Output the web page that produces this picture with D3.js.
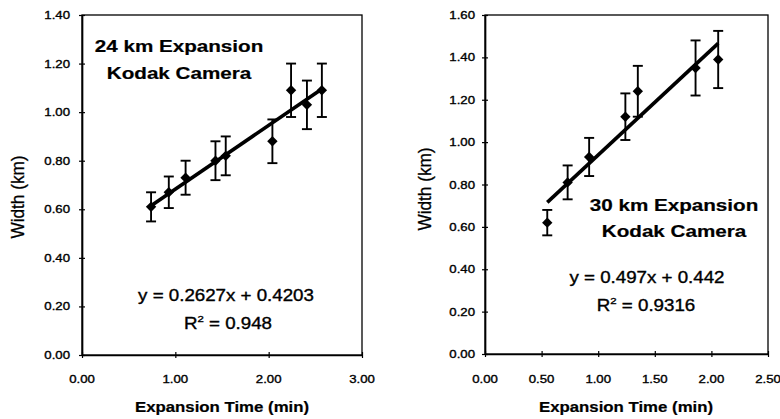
<!DOCTYPE html>
<html>
<head>
<meta charset="utf-8">
<script src="https://cdn.jsdelivr.net/npm/d3@7"></script>
<style>
  html, body { margin: 0; padding: 0; background: #fff; }
  svg { display: block; }
</style>
</head>
<body>
<svg id="chart" width="780" height="419"></svg>
<script>
// ---------- data ----------
// Panel A: 24 km Expansion, Kodak Camera
const timeA  = [0.74, 0.93, 1.11, 1.43, 1.54, 2.04, 2.24, 2.41, 2.57];
const widthA = [0.61, 0.67, 0.73, 0.80, 0.82, 0.88, 1.09, 1.03, 1.09];
const errA   = [0.06, 0.065, 0.07, 0.08, 0.08, 0.09, 0.11, 0.10, 0.11];
const xTicksA = [0, 1, 2, 3];
const yTicksA = [0, 0.2, 0.4, 0.6, 0.8, 1.0, 1.2, 1.4];
const titleA = ["24 km Expansion", "Kodak Camera"];
const trendA = [0.2627, 0.4203];           // slope, intercept
const eqA = ["y = 0.2627x + 0.4203", "0.948"];

// Panel B: 30 km Expansion, Kodak Camera
const timeB  = [0.55, 0.73, 0.92, 1.24, 1.35, 1.86, 2.06];
const widthB = [0.62, 0.81, 0.93, 1.12, 1.24, 1.35, 1.39];
const errB   = [0.06, 0.08, 0.09, 0.11, 0.12, 0.13, 0.135];
const xTicksB = [0, 0.5, 1.0, 1.5, 2.0, 2.5];
const yTicksB = [0, 0.2, 0.4, 0.6, 0.8, 1.0, 1.2, 1.4, 1.6];
const titleB = ["30 km Expansion", "Kodak Camera"];
const trendB = [0.497, 0.442];
const eqB = ["y = 0.497x + 0.442", "0.9316"];

const xTitle = "Expansion Time (min)";
const yTitle = "Width (km)";

// ---------- layout ----------
const FONT = "'Liberation Sans', Arial, Helvetica, sans-serif";
const NARROW = "'Liberation Sans Narrow', 'Arial Narrow', 'Liberation Sans', sans-serif";
const SX = 1.2;   // horizontal stretch of the scanned text

const panels = [
  { t: timeA, w: widthA, e: errA, xt: xTicksA, yt: yTicksA, title: titleA, trend: trendA, eq: eqA,
    x0: 82, x1: 362, y0: 355, y1: 15,
    titlePos: [179, 52, 79], eqPos: [226, 301, 228, 329],
    yLab: [24, 197], yTickX: 70, xTitleX: 222 },
  { t: timeB, w: widthB, e: errB, xt: xTicksB, yt: yTicksB, title: titleB, trend: trendB, eq: eqB,
    x0: 485, x1: 768, y0: 354, y1: 15,
    titlePos: [674, 211, 237], eqPos: [647, 283, 646, 311],
    yLab: [431, 189], yTickX: 475, xTitleX: 626 }
];

const svg = d3.select("#chart");
svg.append("rect").attr("width", 780).attr("height", 419).attr("fill", "#fff");

function txt(g, str, x, y, size, weight, anchor, family) {
  return g.append("text")
    .attr("transform", `translate(${x},${y}) scale(${SX},1)`)
    .attr("text-anchor", anchor || "middle")
    .attr("font-family", family || FONT)
    .attr("font-size", size)
    .attr("font-weight", weight || "normal")
    .attr("fill", "#000")
    .attr("stroke", "#000")
    .attr("stroke-width", weight === "bold" ? 0.2 : 0.35)
    .text(str);
}

panels.forEach(p => {
  const g = svg.append("g");
  const xMax = p.xt[p.xt.length - 1], yMax = p.yt[p.yt.length - 1];
  const x = d3.scaleLinear().domain([0, xMax]).range([p.x0, p.x1]);
  const y = d3.scaleLinear().domain([0, yMax]).range([p.y0, p.y1]);

  // frame
  g.append("rect")
    .attr("x", p.x0).attr("y", p.y1)
    .attr("width", p.x1 - p.x0).attr("height", p.y0 - p.y1)
    .attr("fill", "none").attr("stroke", "#000").attr("stroke-width", 1.3);

  // axes (cross ticks)
  const ax = g.append("g").attr("transform", `translate(0,${p.y0})`)
    .call(d3.axisBottom(x).tickValues(p.xt).tickFormat("").tickSize(3).tickSizeOuter(0));
  ax.selectAll(".tick line").attr("y1", -3).attr("stroke-width", 1.2);
  ax.select(".domain").attr("stroke-width", 1.7);
  const ay = g.append("g").attr("transform", `translate(${p.x0},0)`)
    .call(d3.axisLeft(y).tickValues(p.yt).tickFormat("").tickSize(3).tickSizeOuter(0));
  ay.selectAll(".tick line").attr("x1", 3).attr("stroke-width", 1.2);
  ay.select(".domain").attr("stroke-width", 1.7);

  // tick labels
  p.xt.forEach(v => txt(g, d3.format(".2f")(v), x(v), 383, 11, "normal", "middle"));
  p.yt.forEach(v => txt(g, d3.format(".2f")(v), p.yTickX, y(v) + 4, 11, "normal", "end"));

  // axis titles
  txt(g, xTitle, p.xTitleX, 412, 14, "bold", "middle");
  g.append("text")
    .attr("transform", `translate(${p.yLab[0]},${p.yLab[1]}) scale(${SX},1) rotate(-90)`)
    .attr("text-anchor", "middle")
    .attr("font-family", NARROW).attr("font-size", 16)
    .attr("textLength", 83).attr("lengthAdjust", "spacingAndGlyphs")
    .attr("fill", "#000").attr("stroke", "#000").attr("stroke-width", 0.25)
    .text(yTitle);

  // error bars
  const data = p.t.map((t, i) => ({ t, w: p.w[i], e: p.e[i] }));
  const eb = g.append("g").attr("stroke", "#000").attr("stroke-width", 1.9);
  eb.selectAll("line.stem").data(data).join("line").attr("class", "stem")
    .attr("x1", d => x(d.t)).attr("x2", d => x(d.t))
    .attr("y1", d => y(d.w + d.e)).attr("y2", d => y(d.w - d.e));
  eb.selectAll("line.capT").data(data).join("line").attr("class", "capT")
    .attr("x1", d => x(d.t) - 5).attr("x2", d => x(d.t) + 5)
    .attr("y1", d => y(d.w + d.e)).attr("y2", d => y(d.w + d.e));
  eb.selectAll("line.capB").data(data).join("line").attr("class", "capB")
    .attr("x1", d => x(d.t) - 5).attr("x2", d => x(d.t) + 5)
    .attr("y1", d => y(d.w - d.e)).attr("y2", d => y(d.w - d.e));

  // trend line over the data range
  const [tMin, tMax] = d3.extent(p.t);
  const line = d3.line().x(d => x(d)).y(d => y(p.trend[0] * d + p.trend[1]));
  g.append("path").attr("d", line([tMin, tMax]))
    .attr("fill", "none").attr("stroke", "#000").attr("stroke-width", 3.6);

  // markers
  g.selectAll("path.pt").data(data).join("path").attr("class", "pt")
    .attr("d", d3.symbol(d3.symbolSquare, 54)())
    .attr("transform", d => `translate(${x(d.t)},${y(d.w)}) rotate(45)`)
    .attr("fill", "#000");

  // title
  txt(g, p.title[0], p.titlePos[0], p.titlePos[1], 17.2, "bold", "middle");
  txt(g, p.title[1], p.titlePos[0], p.titlePos[2], 17.2, "bold", "middle");

  // equation
  txt(g, p.eq[0], p.eqPos[0], p.eqPos[1], 15.6, "normal", "middle");
  const r = txt(g, "R", p.eqPos[2], p.eqPos[3], 15.6, "normal", "middle").text(null);
  r.append("tspan").text("R");
  r.append("tspan").attr("font-size", 9.5).attr("dy", -7).text("2");
  r.append("tspan").attr("dy", 7).text(" = " + p.eq[1]);
});
</script>
</body>
</html>
